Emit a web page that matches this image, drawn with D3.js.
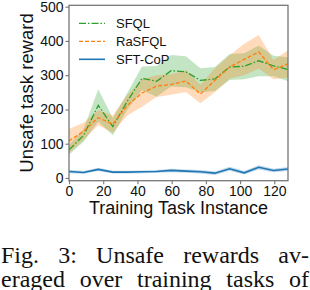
<!DOCTYPE html>
<html>
<head>
<meta charset="utf-8">
<script src="https://cdn.jsdelivr.net/npm/d3@7/dist/d3.min.js"></script>
<style>
  html, body { margin: 0; padding: 0; background: #fff; }
  svg { display: block; }
  .tick text { font-family: "Liberation Sans", Arial, sans-serif; font-size: 14px; fill: #111; }
  .lbl { font-family: "Liberation Sans", Arial, sans-serif; fill: #111; }
  .cap { font-family: "Liberation Serif", "Times New Roman", serif; font-size: 24px; fill: #111; }
</style>
</head>
<body>
<svg id="chart" width="310" height="290"></svg>
<script>
// task instance index (x)
const steps = [0, 8.5, 17.1, 25.6, 34.1, 42.7, 51.2, 59.7, 68.3, 76.8, 85.3, 93.9, 102.4, 110.9, 119.5, 128];

const sfql = [82, 124, 212, 150, 224, 291, 282, 313, 310, 285, 289, 324, 326, 342, 327, 317];
const sfqlStd = [14, 18, 47, 25, 25, 34, 45, 46, 45, 35, 35, 38, 38, 45, 30, 35];

const rasfql = [108, 136, 176, 157, 212, 248, 268, 273, 283, 245, 285, 324, 346, 368, 316, 333];
const rasfqlStd = [35, 25, 22, 25, 30, 40, 32, 30, 32, 27, 35, 34, 46, 49, 28, 40];

const sftcop = [19, 16, 25, 17, 17, 18, 19, 22, 20, 18, 14, 27, 15, 31, 22, 26];
const sftcopStd = [5, 4, 5, 4, 4, 4, 4, 5, 5, 5, 5, 6, 5, 6, 5, 6];

const xTicks = [0, 20, 40, 60, 80, 100, 120];
const yTicks = [0, 100, 200, 300, 400, 500];

const series = [
  { name: 'SFQL', mean: sfql, sd: sfqlStd, color: '#2ca02c', dash: '7,2,1.5,2', w: 1.3 },
  { name: 'RaSFQL', mean: rasfql, sd: rasfqlStd, color: '#ff7f0e', dash: '4,2', w: 1.3 },
  { name: 'SFT-CoP', mean: sftcop, sd: sftcopStd, color: '#1f77b4', dash: null, w: 1.6 },
];

const captionLines = ['Fig. 3: Unsafe rewards av-', 'eraged over training tasks of'];

const svg = d3.select('#chart');
const L = 69, R = 288, T = 5.3, B = 180.7;
const x = d3.scaleLinear().domain([0, 128]).range([L, R]);
const y = d3.scaleLinear().domain([-8, 504]).range([B, T]);

// bands first
const area = (s) => d3.area()
  .x((d, i) => x(steps[i]))
  .y0((d, i) => y(d - s.sd[i]))
  .y1((d, i) => y(d + s.sd[i]));
series.forEach((s) => {
  svg.append('path').datum(s.mean)
    .attr('d', area(s))
    .attr('fill', s.color).attr('fill-opacity', 0.28)
    .attr('stroke', 'none');
});

const line = d3.line().x((d, i) => x(steps[i])).y((d) => y(d));
series.forEach((s) => {
  svg.append('path').datum(s.mean)
    .attr('d', line)
    .attr('fill', 'none')
    .attr('stroke', s.color).attr('stroke-width', s.w)
    .attr('stroke-dasharray', s.dash);
});

// frame
svg.append('rect').attr('x', L).attr('y', T).attr('width', R - L).attr('height', B - T)
  .attr('fill', 'none').attr('stroke', '#777').attr('stroke-width', 1.3);

const xAxis = svg.append('g').attr('transform', `translate(0,${B})`)
  .call(d3.axisBottom(x).tickValues(xTicks).tickSize(3.5).tickPadding(1.5));
const yAxis = svg.append('g').attr('transform', `translate(${L},0)`)
  .call(d3.axisLeft(y).tickValues(yTicks).tickSize(3.5).tickPadding(2));
[xAxis, yAxis].forEach((g) => {
  g.select('.domain').remove();
  g.selectAll('.tick line').attr('stroke', '#777').attr('stroke-width', 1.1);
});

svg.append('text').attr('class', 'lbl')
  .attr('x', (L + R) / 2).attr('y', 214)
  .attr('text-anchor', 'middle').attr('font-size', 18)
  .text('Training Task Instance');
svg.append('text').attr('class', 'lbl')
  .attr('transform', `translate(33,${(T + B) / 2}) rotate(-90)`)
  .attr('text-anchor', 'middle').attr('font-size', 18.5)
  .text('Unsafe task reward');

// legend
const leg = svg.append('g');
series.forEach((s, i) => {
  const ly = 23.3 + i * 18;
  leg.append('line').attr('x1', 79).attr('x2', 105).attr('y1', ly).attr('y2', ly)
    .attr('stroke', s.color).attr('stroke-width', s.w)
    .attr('stroke-dasharray', s.dash);
  leg.append('text').attr('class', 'lbl').attr('x', 116).attr('y', ly)
    .attr('dy', '0.35em').attr('font-size', 13).text(s.name);
});

// caption, justified
function justify(str, yy, x0, x1) {
  const words = str.split(' ');
  const nodes = words.map((w) => svg.append('text').attr('class', 'cap').attr('y', yy).text(w));
  const widths = nodes.map((n) => n.node().getComputedTextLength());
  const gap = (x1 - x0 - d3.sum(widths)) / (words.length - 1);
  let cx = x0;
  nodes.forEach((n, i) => { n.attr('x', cx); cx += widths[i] + gap; });
}
justify(captionLines[0], 263, 1, 309);
justify(captionLines[1], 287, 1, 309);
</script>
</body>
</html>
